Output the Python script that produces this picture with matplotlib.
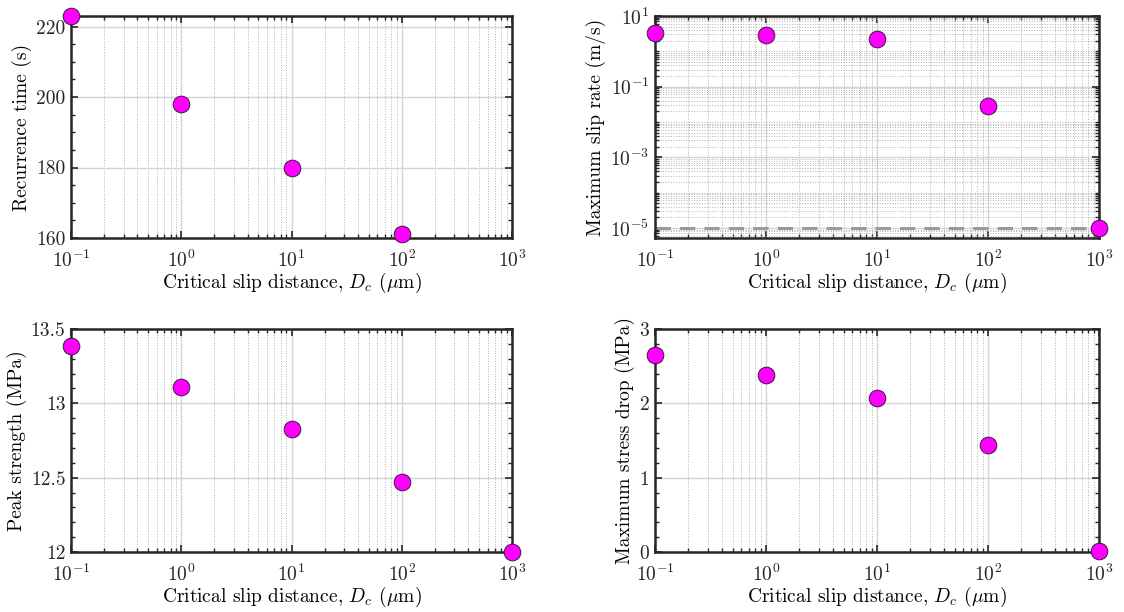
import numpy as np
import matplotlib
matplotlib.use('Agg')
import matplotlib.pyplot as plt
from matplotlib.ticker import LogLocator, MultipleLocator, NullFormatter

# Critical slip distance (um) and outputs
dc = [0.1, 1, 10, 100, 1000]
recurrence_time = [223.0, 198.0, 179.8, 161.1, np.nan]
max_slip_rate = [3.2, 2.83, 2.22, 0.029, 1.0e-5]
peak_strength = [13.387, 13.108, 12.828, 12.469, 12.0]
max_stress_drop = [2.653, 2.378, 2.066, 1.444, 0.01]
v_load = 1.0e-5

xlabel = r'Critical slip distance, $D_c$ ($\mu$m)'

plt.rcParams['font.family'] = ['cmr10', 'DejaVu Serif']
plt.rcParams['mathtext.fontset'] = 'cm'
plt.rcParams['axes.unicode_minus'] = False
plt.rcParams['axes.formatter.use_mathtext'] = True
plt.rcParams['font.size'] = 14

fig = plt.figure(figsize=(11.24, 6.12), dpi=100)
W, H = 1124, 612


def make_ax(x0, y0, x1, y1):
    return fig.add_axes([x0 / W, 1 - y1 / H, (x1 - x0) / W, (y1 - y0) / H])


ax_tl = make_ax(71, 16, 512, 238)
ax_tr = make_ax(655, 16, 1099, 238)
ax_bl = make_ax(71, 329, 512, 552)
ax_br = make_ax(655, 329, 1099, 552)

panels = [
    (ax_tl, recurrence_time, 'Recurrence time (s)', (160, 223), 5),
    (ax_tr, max_slip_rate, 'Maximum slip rate (m/s)', (5.2e-6, 10), None),
    (ax_bl, peak_strength, 'Peak strength (MPa)', (12, 13.5), 0.1),
    (ax_br, max_stress_drop, 'Maximum stress drop (MPa)', (0, 3), 0.2),
]

for ax, vals, ylab, ylim, yminor in panels:
    ax.set_xscale('log')
    ax.set_xlim(0.1, 1000)
    ax.set_xticks([0.1, 1, 10, 100, 1000])
    ax.xaxis.set_minor_locator(LogLocator(base=10, subs=np.arange(2, 10), numticks=20))
    ax.xaxis.set_minor_formatter(NullFormatter())
    if yminor is None:
        ax.set_yscale('log')
        ax.set_yticks([1e-5, 1e-3, 1e-1, 1e1])
        ax.yaxis.set_minor_locator(LogLocator(base=10, subs=np.arange(1, 10), numticks=50))
        ax.yaxis.set_minor_formatter(NullFormatter())
        ax.axhline(v_load, color='#9a9a9a', lw=2.2, ls=(0, (5, 3)), zorder=2)
        ax.grid(True, which='minor', axis='both', color='#b0b0b0', ls=':', lw=0.7)
    else:
        ax.yaxis.set_minor_locator(MultipleLocator(yminor))
        ax.grid(True, which='minor', axis='x', color='#b0b0b0', ls=':', lw=0.7)
    ax.set_ylim(*ylim)
    ax.grid(True, which='major', color='#d4d4d4', ls='-', lw=1.0)
    ax.set_axisbelow(True)

    ax.plot(dc, vals, 'o', ms=12, mfc='#ff00ff', mec='#3a1a3a', mew=0.7,
            clip_on=False, zorder=5)

    ax.set_xlabel(xlabel, labelpad=0)
    ax.set_ylabel(ylab, labelpad=3)
    ax.tick_params(which='both', direction='in', top=True, right=True,
                   color='#262626', labelcolor='#262626')
    ax.tick_params(axis='x', which='major', pad=8)
    ax.tick_params(axis='y', which='major', pad=4)
    ax.tick_params(which='major', length=5, width=1.2)
    ax.tick_params(which='minor', length=3, width=1.0)
    for sp in ax.spines.values():
        sp.set_linewidth(1.8)
        sp.set_color('#262626')

ax_bl.set_yticks([12, 12.5, 13, 13.5])
ax_bl.set_yticklabels(['12', '12.5', '13', '13.5'])
ax_tl.set_yticks([160, 180, 200, 220])
ax_tl.set_yticklabels(['160', '180', '200', '220'])
ax_br.set_yticks([0, 1, 2, 3])
ax_br.set_yticklabels(['0', '1', '2', '3'])

fig.savefig('out.png', dpi=100)
